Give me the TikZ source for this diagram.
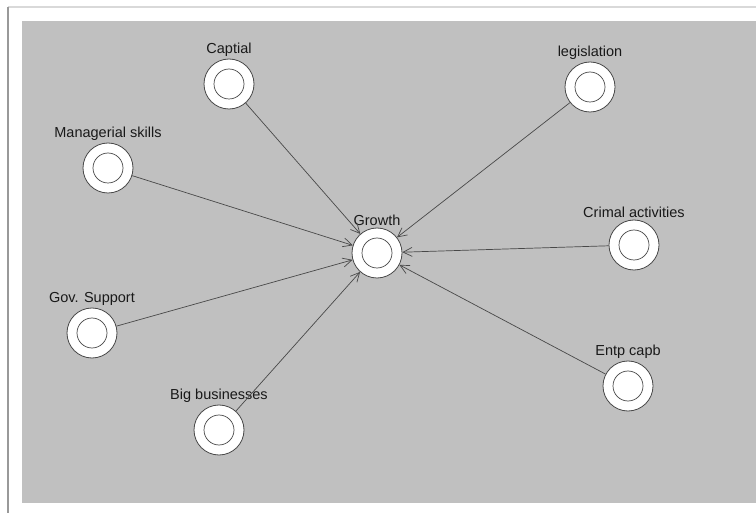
\documentclass[tikz,border=0pt]{standalone}
\usepackage{fontspec}
\setmainfont{Liberation Sans}
\usetikzlibrary{arrows.meta}
\definecolor{panel}{HTML}{C0C0C0}
\definecolor{ink}{HTML}{484848}
\tikzset{
  factor/.style={circle, draw=ink, line width=0.8pt, fill=white, minimum size=50pt, inner sep=0pt,
    path picture={\draw[ink, line width=0.7pt] (path picture bounding box.center) circle (15pt);}},
  tag/.style={font=\fontsize{14.5}{16}\selectfont, text=black!90, inner sep=1.5pt},
  link/.style={draw=ink, line width=0.7pt, -{Straight Barb[length=9pt,width=9pt]}}
}
\begin{document}
\begin{tikzpicture}[x=1pt,y=-1pt]
  \useasboundingbox (0,0) rectangle (756,513);
  \fill[white] (0,0) rectangle (756,513);
  \draw[black!15, line width=1.2pt] (8,7) -- (756,7);
  \draw[black!40, line width=1.2pt] (8,7) -- (8,513);
  \fill[panel] (22,21) rectangle (756,503);
  % factors
  \draw (377,253) node[factor, label={[tag]above:Growth}] (grow) {};
  \draw (229,84) node[factor, label={[tag]above:Captial}] (capt) {};
  \draw (590,87) node[factor, label={[tag]above:legislation}] (legi) {};
  \draw (108,168) node[factor, label={[tag]above:Managerial skills}] (mana) {};
  \draw (634,245) node[factor, label={[tag]above:Crimal activities}] (crim) {};
  \draw (92,333) node[factor, label={[tag]above:Gov. Support}] (govs) {};
  \draw (628,386) node[factor, label={[tag]above:Entp capb}] (entp) {};
  \draw (219,430) node[factor, label={[tag]above:Big businesses}] (bigb) {};
  % links to growth
  \foreach \src in {capt, legi, mana, crim, govs, entp, bigb}
    \draw[link] (\src) -- (grow);
\end{tikzpicture}
\end{document}
